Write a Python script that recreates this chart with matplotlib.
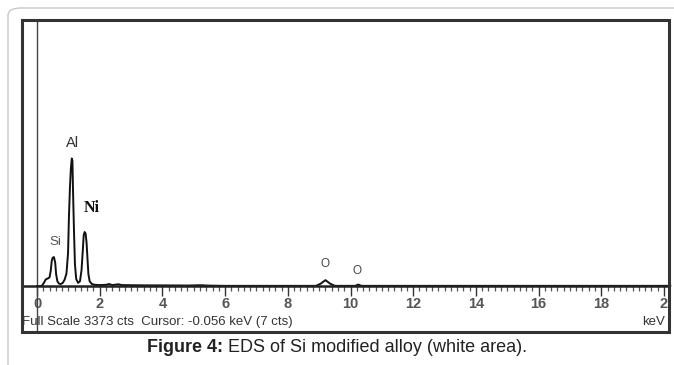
import matplotlib
matplotlib.use("Agg")
import matplotlib.pyplot as plt
from matplotlib.patches import Rectangle, FancyBboxPatch
import numpy as np

# Spectrum (energy in keV, counts)
energy = [0.00, 0.15, 0.22, 0.28, 0.34, 0.40, 0.44, 0.47, 0.50, 0.54, 0.58, 0.61, 0.65,
          0.70, 0.76, 0.82, 0.88, 0.94, 0.99, 1.02, 1.05, 1.08, 1.11, 1.13, 1.15, 1.18,
          1.21, 1.25, 1.31, 1.37, 1.42, 1.46, 1.49, 1.52, 1.55, 1.58, 1.61, 1.64, 1.68,
          1.75, 1.85, 2.00, 2.20, 2.30, 2.40, 2.60, 2.70, 3.00, 3.50, 4.00, 4.80, 5.20,
          5.50, 6.00, 8.90, 9.05, 9.20, 9.35, 9.50, 10.15, 10.25, 10.35, 20.2]
counts = [0, 0, 40, 85, 95, 110, 200, 320, 360, 370, 300, 150, 60,
          30, 25, 40, 80, 160, 420, 900, 1250, 1500, 1630, 1600, 1200, 700,
          280, 90, 40, 60, 200, 450, 650, 690, 670, 560, 350, 150, 60,
          25, 15, 12, 15, 25, 12, 22, 12, 10, 8, 8, 6, 10,
          5, 2, 2, 30, 75, 30, 2, 2, 18, 2, 2]

full_scale = 3373
tick_values = [0, 2, 4, 6, 8, 10, 12, 14, 16, 18, 20]
tick_labels = ["0", "2", "4", "6", "8", "10", "12", "14", "16", "18", "2"]

peak_labels = ["Si", "Al", "Ni", "O", "O"]
peak_text_x = [0.57, 1.14, 1.74, 9.20, 10.20]
peak_text_y = [480, 1740, 890, 200, 110]

W, H = 674, 365
fig = plt.figure(figsize=(W / 100, H / 100), dpi=100)

def fx(px):
    return px / W

def fy(py):
    return 1 - py / H

# outer rounded light frame
outer = FancyBboxPatch((fx(8), fy(380)), fx(700), (380 - 8) / H,
                       boxstyle="round,pad=0,rounding_size=0.02",
                       transform=fig.transFigure, fill=False,
                       edgecolor="#c8c8c8", linewidth=1.0)
fig.patches.append(outer)

# inner dark frame
frame = Rectangle((fx(22), fy(332)), fx(669 - 22), (332 - 20) / H,
                  transform=fig.transFigure, fill=False,
                  edgecolor="#333333", linewidth=2.2)
fig.patches.append(frame)

# axes: x 0 keV at px 37, 20 keV at px 664
x0_px, x20_px = 37, 664
ppk = (x20_px - x0_px) / 20.0
base_px, top_px = 286, 22
ppc = (base_px - top_px) / full_scale
left_px, right_px = 23, 668
bot_px, topf_px = 331, 21
ax = fig.add_axes([fx(left_px), fy(bot_px), fx(right_px - left_px), (bot_px - topf_px) / H])
ax.set_xlim(-(x0_px - left_px) / ppk, 20 + (right_px - x20_px) / ppk)
ax.set_ylim(-(bot_px - base_px) / ppc, (base_px - topf_px) / ppc)
ax.patch.set_alpha(0)
for s in ["top", "right", "left"]:
    ax.spines[s].set_visible(False)
ax.spines["bottom"].set_position(("data", 0))
ax.spines["bottom"].set_linewidth(1.8)
ax.spines["bottom"].set_color("#222222")
ax.set_yticks([])
ax.set_xticks(tick_values)
ax.set_xticklabels(tick_labels)
ax.set_xticks(np.arange(0, 20.01, 0.2), minor=True)
ax.tick_params(axis="x", which="major", direction="out", length=7, width=1.0,
               color="#333333", labelsize=10.5, labelcolor="#555555", pad=1)
ax.tick_params(axis="x", which="minor", direction="out", length=3.5, width=0.9,
               color="#555555")
for t in ax.get_xticklabels():
    t.set_fontfamily("Liberation Sans")
    t.set_fontweight("bold")

# y axis line at 0 keV
ax.axvline(0, color="#444444", linewidth=1.0)

ax.plot(energy, counts, color="#111111", linewidth=1.4, clip_on=False)

styles = {
    "Si": dict(fontsize=9.5, color="#555555", family="Liberation Sans"),
    "Al": dict(fontsize=10.5, color="#333333", family="Liberation Sans"),
    "Ni": dict(fontsize=11.5, color="#111111", family="Liberation Serif", fontweight="bold"),
    "O": dict(fontsize=8.5, color="#444444", family="Liberation Sans"),
}
for lab, xp, yp in zip(peak_labels, peak_text_x, peak_text_y):
    ax.text(xp, yp, lab, ha="center", va="bottom", **styles[lab])

fig.text(fx(22), fy(322), "Full Scale 3373 cts  Cursor: -0.056 keV (7 cts)",
         ha="left", va="center", fontsize=9.5, color="#333333", family="Liberation Sans")
fig.text(fx(665), fy(322), "keV", ha="right", va="center", fontsize=9.5,
         color="#333333", family="Liberation Sans")

# caption in two pieces, centered together
cap_bold = "Figure 4:"
cap_rest = " EDS of Si modified alloy (white area)."
cap_fs = 13
t1 = fig.text(0, fy(348), cap_bold, ha="left", va="center", fontsize=cap_fs,
              fontweight="bold", color="#222222", family="Liberation Sans")
t2 = fig.text(0, fy(348), cap_rest, ha="left", va="center", fontsize=cap_fs,
              color="#222222", family="Liberation Sans")
r = fig.canvas.get_renderer()
w1 = t1.get_window_extent(r).width
w2 = t2.get_window_extent(r).width
start = 337 - (w1 + w2) / 2
t1.set_x(fx(start))
t2.set_x(fx(start + w1))

fig.savefig("out.png", dpi=100)
